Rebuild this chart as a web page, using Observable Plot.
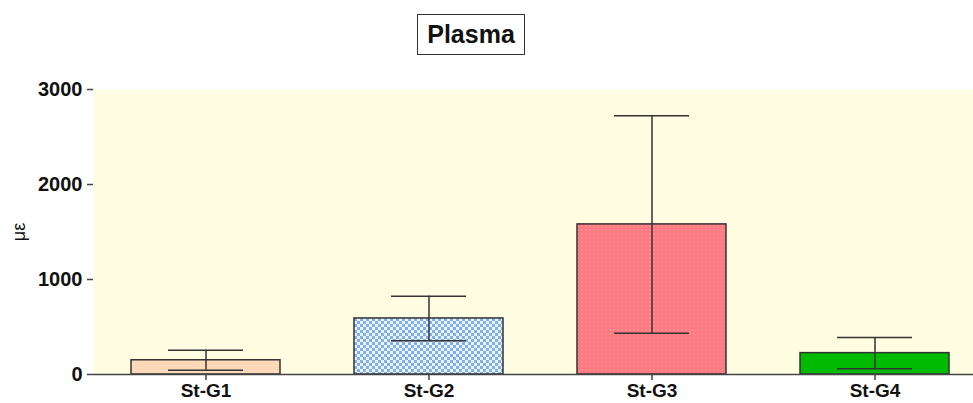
<!DOCTYPE html>
<html>
<head>
<meta charset="utf-8">
<script src="https://cdn.jsdelivr.net/npm/d3@7"></script>
<script src="https://cdn.jsdelivr.net/npm/@observablehq/plot@0.6"></script>
<style>
  html, body { margin: 0; padding: 0; background: #fff; overflow: hidden; }
  #wrap { position: relative; width: 973px; height: 403px; font-family: "Liberation Sans", Arial, sans-serif; }
  #title { position: absolute; left: 417px; top: 14px; width: 106px; height: 39px; border: 1.5px solid #333;
           font-weight: bold; font-size: 25px; line-height: 39px; text-align: center; color: #111; background: #fff; }
</style>
</head>
<body>
<div id="wrap"><div id="title">Plasma</div></div>
<script>
const groups = ["St-G1", "St-G2", "St-G3", "St-G4"];
const means = [150, 590, 1580, 225];
const sds = [105, 235, 1145, 165];
const yTicks = [0, 1000, 2000, 3000];
const fills = ["#fcd9b8", "url(#checker)", "url(#dots)", "#00bb00"];

const rows = groups.map((g, i) => ({g, mean: means[i], lo: means[i] - sds[i], hi: means[i] + sds[i], fill: fills[i]}));

const chart = Plot.plot({
  width: 973,
  height: 403,
  marginTop: 89,
  marginBottom: 29,
  marginLeft: 93,
  marginRight: 0,
  style: {fontFamily: "'Liberation Sans', Arial, sans-serif", background: "transparent", color: "#111"},
  x: {domain: groups, paddingInner: 0.333, paddingOuter: 0.137, align: 0.605, label: null},
  y: {domain: [0, 3000], label: null},
  marks: [
    Plot.frame({fill: "#fffde1", stroke: null}),
    Plot.barY(rows, {x: "g", y: "mean", fill: d => d.fill, stroke: "#333", strokeWidth: 1.5}),
    Plot.ruleX(rows, {x: "g", y1: "lo", y2: "hi", stroke: "#333", strokeWidth: 1.5}),
    Plot.tickY(rows, {x: "g", y: "hi", stroke: "#333", strokeWidth: 1.5, insetLeft: 37, insetRight: 37}),
    Plot.tickY(rows, {x: "g", y: "lo", stroke: "#333", strokeWidth: 1.5, insetLeft: 37, insetRight: 37}),
    Plot.ruleY([0], {stroke: "#444", strokeWidth: 1.5}),
    Plot.ruleX([0], {x: () => 0, frameAnchor: "left", stroke: "#444", strokeWidth: 1.5}),
    Plot.axisY({ticks: yTicks, tickFormat: d3.format("d"), tickSize: 6, tickPadding: 5, stroke: "#444", strokeWidth: 1.5, fontSize: 20, fontWeight: "bold", label: null}),
    Plot.axisX({tickSize: 6, tickPadding: 3, stroke: "#444", strokeWidth: 1.5, fontSize: 19, fontWeight: "bold", label: null})
  ]
});

// pattern definitions
const ns = "http://www.w3.org/2000/svg";
const defs = document.createElementNS(ns, "defs");
defs.innerHTML = `
  <pattern id="checker" width="6" height="6" patternUnits="userSpaceOnUse">
    <rect width="6" height="6" fill="#eef4ff"/>
    <rect width="3" height="3" fill="#7fb0ee"/>
    <rect x="3" y="3" width="3" height="3" fill="#7fb0ee"/>
  </pattern>
  <pattern id="dots" width="4" height="4" patternUnits="userSpaceOnUse">
    <rect width="4" height="4" fill="#ff7a80"/>
    <circle cx="2" cy="2" r="0.8" fill="#ffa4a8"/>
  </pattern>`;
chart.insertBefore(defs, chart.firstChild);
chart.style.position = "absolute";
chart.style.left = "0";
chart.style.top = "0";
const wrap = document.getElementById("wrap");
wrap.insertBefore(chart, wrap.firstChild);

// y-axis label
const lab = document.createElementNS(ns, "text");
lab.setAttribute("transform", "translate(25,232) rotate(-90)");
lab.setAttribute("text-anchor", "middle");
lab.setAttribute("font-size", "18");
lab.setAttribute("fill", "#111");
lab.textContent = "με";
chart.appendChild(lab);
</script>
</body>
</html>
